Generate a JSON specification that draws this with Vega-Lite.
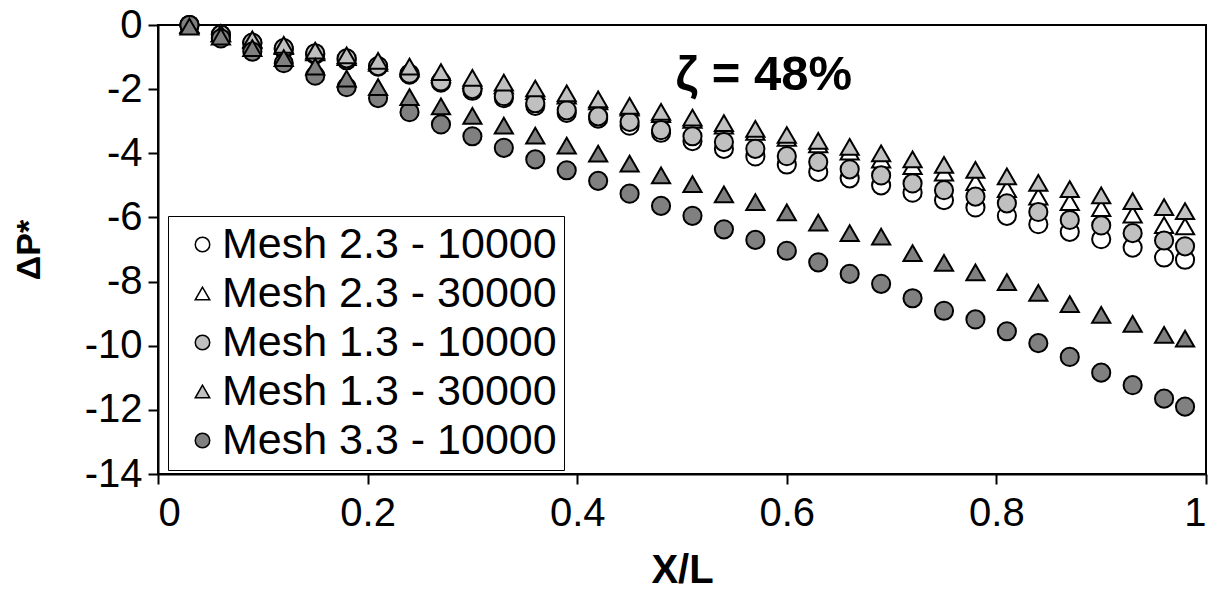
{
  "$schema": "https://vega.github.io/schema/vega-lite/v6.json",
  "width": 1048,
  "height": 449,
  "autosize": "none",
  "padding": {"left": 158, "top": 25, "right": 10, "bottom": 125},
  "background": "white",
  "config": {
    "font": "Liberation Sans",
    "view": {"stroke": "black", "strokeWidth": 2},
    "axis": {
      "domainColor": "black", "domainWidth": 2,
      "tickColor": "black", "tickWidth": 2, "tickSize": 10,
      "labelColor": "black", "labelFontSize": 40, "labelFont": "Liberation Sans",
      "titleColor": "black", "titleFont": "Liberation Sans", "titleFontWeight": "bold",
      "grid": false
    },
    "legend": {
      "strokeColor": "black", "fillColor": "white",
      "padding": 7, "rowPadding": 5, "symbolOffset": 6, "labelOffset": -2,
      "labelFontSize": 43, "labelFont": "Liberation Sans", "labelColor": "black", "labelLimit": 600,
      "symbolSize": 210
    }
  },
  "datasets": {
    "pts": [
      {"x":0.03,"y":0,"s":"Mesh 2.3 - 10000"},{"x":0.06,"y":-0.3,"s":"Mesh 2.3 - 10000"},{"x":0.09,"y":-0.57,"s":"Mesh 2.3 - 10000"},{"x":0.12,"y":-0.76,"s":"Mesh 2.3 - 10000"},{"x":0.15,"y":-0.92,"s":"Mesh 2.3 - 10000"},{"x":0.18,"y":-1.1,"s":"Mesh 2.3 - 10000"},{"x":0.21,"y":-1.3,"s":"Mesh 2.3 - 10000"},{"x":0.24,"y":-1.55,"s":"Mesh 2.3 - 10000"},{"x":0.27,"y":-1.8,"s":"Mesh 2.3 - 10000"},{"x":0.3,"y":-2.05,"s":"Mesh 2.3 - 10000"},{"x":0.33,"y":-2.28,"s":"Mesh 2.3 - 10000"},{"x":0.36,"y":-2.52,"s":"Mesh 2.3 - 10000"},{"x":0.39,"y":-2.74,"s":"Mesh 2.3 - 10000"},{"x":0.42,"y":-2.92,"s":"Mesh 2.3 - 10000"},{"x":0.45,"y":-3.14,"s":"Mesh 2.3 - 10000"},{"x":0.48,"y":-3.36,"s":"Mesh 2.3 - 10000"},{"x":0.51,"y":-3.62,"s":"Mesh 2.3 - 10000"},{"x":0.54,"y":-3.86,"s":"Mesh 2.3 - 10000"},{"x":0.57,"y":-4.1,"s":"Mesh 2.3 - 10000"},{"x":0.6,"y":-4.35,"s":"Mesh 2.3 - 10000"},{"x":0.63,"y":-4.58,"s":"Mesh 2.3 - 10000"},{"x":0.66,"y":-4.78,"s":"Mesh 2.3 - 10000"},{"x":0.69,"y":-5.0,"s":"Mesh 2.3 - 10000"},{"x":0.72,"y":-5.23,"s":"Mesh 2.3 - 10000"},{"x":0.75,"y":-5.46,"s":"Mesh 2.3 - 10000"},{"x":0.78,"y":-5.69,"s":"Mesh 2.3 - 10000"},{"x":0.81,"y":-5.95,"s":"Mesh 2.3 - 10000"},{"x":0.84,"y":-6.21,"s":"Mesh 2.3 - 10000"},{"x":0.87,"y":-6.45,"s":"Mesh 2.3 - 10000"},{"x":0.9,"y":-6.68,"s":"Mesh 2.3 - 10000"},{"x":0.93,"y":-6.94,"s":"Mesh 2.3 - 10000"},{"x":0.96,"y":-7.25,"s":"Mesh 2.3 - 10000"},{"x":0.98,"y":-7.32,"s":"Mesh 2.3 - 10000"},

      {"x":0.03,"y":0,"s":"Mesh 2.3 - 30000"},{"x":0.06,"y":-0.27,"s":"Mesh 2.3 - 30000"},{"x":0.09,"y":-0.48,"s":"Mesh 2.3 - 30000"},{"x":0.12,"y":-0.66,"s":"Mesh 2.3 - 30000"},{"x":0.15,"y":-0.85,"s":"Mesh 2.3 - 30000"},{"x":0.18,"y":-1.0,"s":"Mesh 2.3 - 30000"},{"x":0.21,"y":-1.18,"s":"Mesh 2.3 - 30000"},{"x":0.24,"y":-1.36,"s":"Mesh 2.3 - 30000"},{"x":0.27,"y":-1.54,"s":"Mesh 2.3 - 30000"},{"x":0.3,"y":-1.72,"s":"Mesh 2.3 - 30000"},{"x":0.33,"y":-1.88,"s":"Mesh 2.3 - 30000"},{"x":0.36,"y":-2.06,"s":"Mesh 2.3 - 30000"},{"x":0.39,"y":-2.2,"s":"Mesh 2.3 - 30000"},{"x":0.42,"y":-2.38,"s":"Mesh 2.3 - 30000"},{"x":0.45,"y":-2.58,"s":"Mesh 2.3 - 30000"},{"x":0.48,"y":-2.78,"s":"Mesh 2.3 - 30000"},{"x":0.51,"y":-2.96,"s":"Mesh 2.3 - 30000"},{"x":0.54,"y":-3.14,"s":"Mesh 2.3 - 30000"},{"x":0.57,"y":-3.33,"s":"Mesh 2.3 - 30000"},{"x":0.6,"y":-3.52,"s":"Mesh 2.3 - 30000"},{"x":0.63,"y":-3.72,"s":"Mesh 2.3 - 30000"},{"x":0.66,"y":-3.95,"s":"Mesh 2.3 - 30000"},{"x":0.69,"y":-4.2,"s":"Mesh 2.3 - 30000"},{"x":0.72,"y":-4.4,"s":"Mesh 2.3 - 30000"},{"x":0.75,"y":-4.6,"s":"Mesh 2.3 - 30000"},{"x":0.78,"y":-4.9,"s":"Mesh 2.3 - 30000"},{"x":0.81,"y":-5.12,"s":"Mesh 2.3 - 30000"},{"x":0.84,"y":-5.35,"s":"Mesh 2.3 - 30000"},{"x":0.87,"y":-5.52,"s":"Mesh 2.3 - 30000"},{"x":0.9,"y":-5.71,"s":"Mesh 2.3 - 30000"},{"x":0.93,"y":-5.91,"s":"Mesh 2.3 - 30000"},{"x":0.96,"y":-6.24,"s":"Mesh 2.3 - 30000"},{"x":0.98,"y":-6.28,"s":"Mesh 2.3 - 30000"},

      {"x":0.03,"y":0,"s":"Mesh 1.3 - 10000"},{"x":0.06,"y":-0.3,"s":"Mesh 1.3 - 10000"},{"x":0.09,"y":-0.55,"s":"Mesh 1.3 - 10000"},{"x":0.12,"y":-0.72,"s":"Mesh 1.3 - 10000"},{"x":0.15,"y":-0.88,"s":"Mesh 1.3 - 10000"},{"x":0.18,"y":-1.04,"s":"Mesh 1.3 - 10000"},{"x":0.21,"y":-1.28,"s":"Mesh 1.3 - 10000"},{"x":0.24,"y":-1.52,"s":"Mesh 1.3 - 10000"},{"x":0.27,"y":-1.76,"s":"Mesh 1.3 - 10000"},{"x":0.3,"y":-2.0,"s":"Mesh 1.3 - 10000"},{"x":0.33,"y":-2.22,"s":"Mesh 1.3 - 10000"},{"x":0.36,"y":-2.44,"s":"Mesh 1.3 - 10000"},{"x":0.39,"y":-2.66,"s":"Mesh 1.3 - 10000"},{"x":0.42,"y":-2.85,"s":"Mesh 1.3 - 10000"},{"x":0.45,"y":-3.02,"s":"Mesh 1.3 - 10000"},{"x":0.48,"y":-3.28,"s":"Mesh 1.3 - 10000"},{"x":0.51,"y":-3.47,"s":"Mesh 1.3 - 10000"},{"x":0.54,"y":-3.65,"s":"Mesh 1.3 - 10000"},{"x":0.57,"y":-3.86,"s":"Mesh 1.3 - 10000"},{"x":0.6,"y":-4.09,"s":"Mesh 1.3 - 10000"},{"x":0.63,"y":-4.27,"s":"Mesh 1.3 - 10000"},{"x":0.66,"y":-4.5,"s":"Mesh 1.3 - 10000"},{"x":0.69,"y":-4.69,"s":"Mesh 1.3 - 10000"},{"x":0.72,"y":-4.94,"s":"Mesh 1.3 - 10000"},{"x":0.75,"y":-5.15,"s":"Mesh 1.3 - 10000"},{"x":0.78,"y":-5.35,"s":"Mesh 1.3 - 10000"},{"x":0.81,"y":-5.56,"s":"Mesh 1.3 - 10000"},{"x":0.84,"y":-5.83,"s":"Mesh 1.3 - 10000"},{"x":0.87,"y":-6.08,"s":"Mesh 1.3 - 10000"},{"x":0.9,"y":-6.25,"s":"Mesh 1.3 - 10000"},{"x":0.93,"y":-6.49,"s":"Mesh 1.3 - 10000"},{"x":0.96,"y":-6.72,"s":"Mesh 1.3 - 10000"},{"x":0.98,"y":-6.9,"s":"Mesh 1.3 - 10000"},

      {"x":0.03,"y":0,"s":"Mesh 1.3 - 30000"},{"x":0.06,"y":-0.25,"s":"Mesh 1.3 - 30000"},{"x":0.09,"y":-0.45,"s":"Mesh 1.3 - 30000"},{"x":0.12,"y":-0.62,"s":"Mesh 1.3 - 30000"},{"x":0.15,"y":-0.8,"s":"Mesh 1.3 - 30000"},{"x":0.18,"y":-0.95,"s":"Mesh 1.3 - 30000"},{"x":0.21,"y":-1.12,"s":"Mesh 1.3 - 30000"},{"x":0.24,"y":-1.3,"s":"Mesh 1.3 - 30000"},{"x":0.27,"y":-1.47,"s":"Mesh 1.3 - 30000"},{"x":0.3,"y":-1.65,"s":"Mesh 1.3 - 30000"},{"x":0.33,"y":-1.8,"s":"Mesh 1.3 - 30000"},{"x":0.36,"y":-1.98,"s":"Mesh 1.3 - 30000"},{"x":0.39,"y":-2.13,"s":"Mesh 1.3 - 30000"},{"x":0.42,"y":-2.32,"s":"Mesh 1.3 - 30000"},{"x":0.45,"y":-2.52,"s":"Mesh 1.3 - 30000"},{"x":0.48,"y":-2.71,"s":"Mesh 1.3 - 30000"},{"x":0.51,"y":-2.89,"s":"Mesh 1.3 - 30000"},{"x":0.54,"y":-3.06,"s":"Mesh 1.3 - 30000"},{"x":0.57,"y":-3.24,"s":"Mesh 1.3 - 30000"},{"x":0.6,"y":-3.43,"s":"Mesh 1.3 - 30000"},{"x":0.63,"y":-3.61,"s":"Mesh 1.3 - 30000"},{"x":0.66,"y":-3.8,"s":"Mesh 1.3 - 30000"},{"x":0.69,"y":-4.0,"s":"Mesh 1.3 - 30000"},{"x":0.72,"y":-4.19,"s":"Mesh 1.3 - 30000"},{"x":0.75,"y":-4.36,"s":"Mesh 1.3 - 30000"},{"x":0.78,"y":-4.52,"s":"Mesh 1.3 - 30000"},{"x":0.81,"y":-4.72,"s":"Mesh 1.3 - 30000"},{"x":0.84,"y":-4.92,"s":"Mesh 1.3 - 30000"},{"x":0.87,"y":-5.12,"s":"Mesh 1.3 - 30000"},{"x":0.9,"y":-5.31,"s":"Mesh 1.3 - 30000"},{"x":0.93,"y":-5.49,"s":"Mesh 1.3 - 30000"},{"x":0.96,"y":-5.68,"s":"Mesh 1.3 - 30000"},{"x":0.98,"y":-5.8,"s":"Mesh 1.3 - 30000"},

      {"x":0.03,"y":0,"s":"Mesh 3.3 - 10000"},{"x":0.06,"y":-0.42,"s":"Mesh 3.3 - 10000"},{"x":0.09,"y":-0.83,"s":"Mesh 3.3 - 10000"},{"x":0.12,"y":-1.19,"s":"Mesh 3.3 - 10000"},{"x":0.15,"y":-1.58,"s":"Mesh 3.3 - 10000"},{"x":0.18,"y":-1.94,"s":"Mesh 3.3 - 10000"},{"x":0.21,"y":-2.28,"s":"Mesh 3.3 - 10000"},{"x":0.24,"y":-2.72,"s":"Mesh 3.3 - 10000"},{"x":0.27,"y":-3.1,"s":"Mesh 3.3 - 10000"},{"x":0.3,"y":-3.47,"s":"Mesh 3.3 - 10000"},{"x":0.33,"y":-3.83,"s":"Mesh 3.3 - 10000"},{"x":0.36,"y":-4.19,"s":"Mesh 3.3 - 10000"},{"x":0.39,"y":-4.53,"s":"Mesh 3.3 - 10000"},{"x":0.42,"y":-4.86,"s":"Mesh 3.3 - 10000"},{"x":0.45,"y":-5.26,"s":"Mesh 3.3 - 10000"},{"x":0.48,"y":-5.64,"s":"Mesh 3.3 - 10000"},{"x":0.51,"y":-5.95,"s":"Mesh 3.3 - 10000"},{"x":0.54,"y":-6.37,"s":"Mesh 3.3 - 10000"},{"x":0.57,"y":-6.7,"s":"Mesh 3.3 - 10000"},{"x":0.6,"y":-7.04,"s":"Mesh 3.3 - 10000"},{"x":0.63,"y":-7.4,"s":"Mesh 3.3 - 10000"},{"x":0.66,"y":-7.76,"s":"Mesh 3.3 - 10000"},{"x":0.69,"y":-8.07,"s":"Mesh 3.3 - 10000"},{"x":0.72,"y":-8.52,"s":"Mesh 3.3 - 10000"},{"x":0.75,"y":-8.91,"s":"Mesh 3.3 - 10000"},{"x":0.78,"y":-9.18,"s":"Mesh 3.3 - 10000"},{"x":0.81,"y":-9.55,"s":"Mesh 3.3 - 10000"},{"x":0.84,"y":-9.92,"s":"Mesh 3.3 - 10000"},{"x":0.87,"y":-10.35,"s":"Mesh 3.3 - 10000"},{"x":0.9,"y":-10.84,"s":"Mesh 3.3 - 10000"},{"x":0.93,"y":-11.23,"s":"Mesh 3.3 - 10000"},{"x":0.96,"y":-11.65,"s":"Mesh 3.3 - 10000"},{"x":0.98,"y":-11.9,"s":"Mesh 3.3 - 10000"},

      {"x":0.03,"y":-0.05,"s":"Mesh 3.3 - 30000"},{"x":0.06,"y":-0.36,"s":"Mesh 3.3 - 30000"},{"x":0.09,"y":-0.72,"s":"Mesh 3.3 - 30000"},{"x":0.12,"y":-1.03,"s":"Mesh 3.3 - 30000"},{"x":0.15,"y":-1.3,"s":"Mesh 3.3 - 30000"},{"x":0.18,"y":-1.67,"s":"Mesh 3.3 - 30000"},{"x":0.21,"y":-1.94,"s":"Mesh 3.3 - 30000"},{"x":0.24,"y":-2.25,"s":"Mesh 3.3 - 30000"},{"x":0.27,"y":-2.54,"s":"Mesh 3.3 - 30000"},{"x":0.3,"y":-2.83,"s":"Mesh 3.3 - 30000"},{"x":0.33,"y":-3.14,"s":"Mesh 3.3 - 30000"},{"x":0.36,"y":-3.45,"s":"Mesh 3.3 - 30000"},{"x":0.39,"y":-3.76,"s":"Mesh 3.3 - 30000"},{"x":0.42,"y":-4.01,"s":"Mesh 3.3 - 30000"},{"x":0.45,"y":-4.32,"s":"Mesh 3.3 - 30000"},{"x":0.48,"y":-4.69,"s":"Mesh 3.3 - 30000"},{"x":0.51,"y":-4.96,"s":"Mesh 3.3 - 30000"},{"x":0.54,"y":-5.28,"s":"Mesh 3.3 - 30000"},{"x":0.57,"y":-5.52,"s":"Mesh 3.3 - 30000"},{"x":0.6,"y":-5.84,"s":"Mesh 3.3 - 30000"},{"x":0.63,"y":-6.16,"s":"Mesh 3.3 - 30000"},{"x":0.66,"y":-6.49,"s":"Mesh 3.3 - 30000"},{"x":0.69,"y":-6.6,"s":"Mesh 3.3 - 30000"},{"x":0.72,"y":-7.11,"s":"Mesh 3.3 - 30000"},{"x":0.75,"y":-7.42,"s":"Mesh 3.3 - 30000"},{"x":0.78,"y":-7.71,"s":"Mesh 3.3 - 30000"},{"x":0.81,"y":-8.02,"s":"Mesh 3.3 - 30000"},{"x":0.84,"y":-8.35,"s":"Mesh 3.3 - 30000"},{"x":0.87,"y":-8.7,"s":"Mesh 3.3 - 30000"},{"x":0.9,"y":-9.04,"s":"Mesh 3.3 - 30000"},{"x":0.93,"y":-9.32,"s":"Mesh 3.3 - 30000"},{"x":0.96,"y":-9.66,"s":"Mesh 3.3 - 30000"},{"x":0.98,"y":-9.78,"s":"Mesh 3.3 - 30000"}
    ],
    "note": [{"label": "ζ = 48%"}]
  },
  "layer": [
    {
      "data": {"name": "pts"},
      "mark": {"type": "point", "filled": true, "size": 330, "opacity": 1},
      "encoding": {
        "x": {
          "field": "x", "type": "quantitative",
          "scale": {"domain": [0, 1], "nice": false, "zero": false},
          "axis": {"values": [0, 0.2, 0.4, 0.6, 0.8, 1], "labelExpr": "datum.value + ''", "labelPadding": 9, "title": "X/L", "titleFontSize": 40, "titlePadding": 17}
        },
        "y": {
          "field": "y", "type": "quantitative",
          "scale": {"domain": [-14, 0], "nice": false, "zero": false},
          "axis": {"values": [-14, -12, -10, -8, -6, -4, -2, 0], "labelExpr": "datum.value + ''", "labelPadding": 6, "title": "ΔP*", "titleFontSize": 34, "titlePadding": 38}
        },
        "stroke": {"value": "black"},
        "strokeWidth": {"value": 2},
        "color": {
          "field": "s", "type": "nominal",
          "scale": {
            "domain": ["Mesh 2.3 - 10000", "Mesh 2.3 - 30000", "Mesh 1.3 - 10000", "Mesh 1.3 - 30000", "Mesh 3.3 - 10000", "Mesh 3.3 - 30000"],
            "range": ["#ffffff", "#ffffff", "#c0c0c0", "#c0c0c0", "#808080", "#808080"]
          },
          "legend": {
            "title": null,
            "values": ["Mesh 2.3 - 10000", "Mesh 2.3 - 30000", "Mesh 1.3 - 10000", "Mesh 1.3 - 30000", "Mesh 3.3 - 10000"],
            "orient": "none", "legendX": 10, "legendY": 191,
            "encode": {"legend": {"strokeWidth": {"value": 2}}}
          }
        },
        "shape": {
          "field": "s", "type": "nominal",
          "scale": {
            "domain": ["Mesh 2.3 - 10000", "Mesh 2.3 - 30000", "Mesh 1.3 - 10000", "Mesh 1.3 - 30000", "Mesh 3.3 - 10000", "Mesh 3.3 - 30000"],
            "range": ["circle", "triangle-up", "circle", "triangle-up", "circle", "triangle-up"]
          },
          "legend": {
            "title": null,
            "values": ["Mesh 2.3 - 10000", "Mesh 2.3 - 30000", "Mesh 1.3 - 10000", "Mesh 1.3 - 30000", "Mesh 3.3 - 10000"],
            "orient": "none", "legendX": 10, "legendY": 191,
            "encode": {"legend": {"strokeWidth": {"value": 2}}}
          }
        }
      }
    },
    {
      "data": {"name": "note"},
      "mark": {"type": "text", "font": "Liberation Sans", "fontWeight": "bold", "fontSize": 49, "color": "black", "align": "center", "baseline": "middle"},
      "encoding": {"x": {"datum": 0.578}, "y": {"datum": -1.56}, "text": {"field": "label", "type": "nominal"}}
    }
  ]
}
